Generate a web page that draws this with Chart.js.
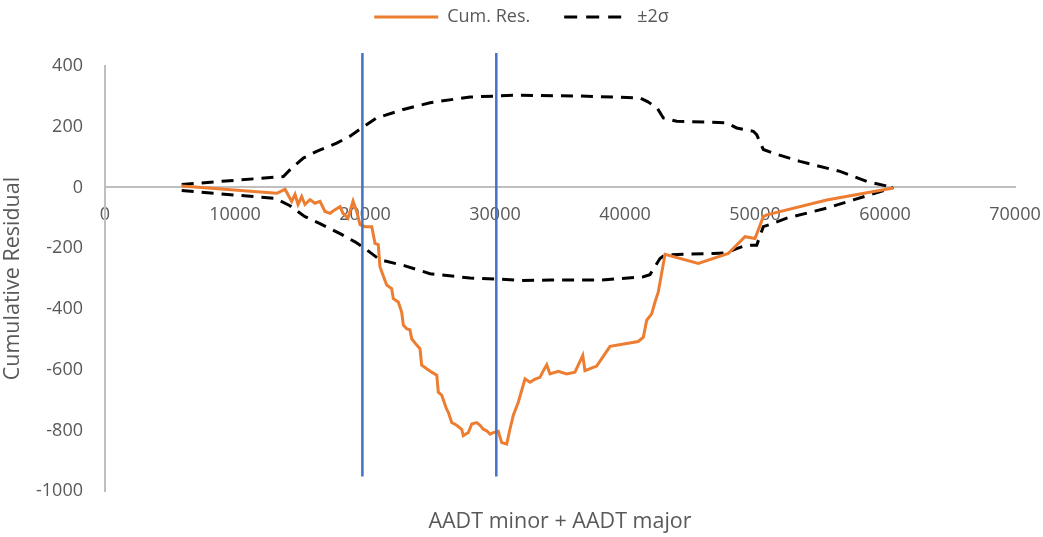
<!DOCTYPE html>
<html>
<head>
<meta charset="utf-8">
<script src="https://cdn.jsdelivr.net/npm/chart.js@4.4.1/dist/chart.umd.min.js"></script>
<style>
  html, body { margin: 0; padding: 0; background: #fff; }
</style>
</head>
<body>
<canvas id="grafico" width="1043" height="537"></canvas>
<script>
// Cumulative residual (orange)
const cumX = [5900, 13210, 13850, 14360, 14620, 14850, 15130, 15380, 15770, 16150, 16540, 16920, 17310, 17690, 18080, 18310, 18690, 19080, 19360, 19620, 20000, 20520, 20770, 21020, 21150, 21380, 21670, 22050, 22180, 22560, 22820, 22950, 23210, 23460, 23590, 23980, 24230, 24360, 24750, 25130, 25520, 25640, 25900, 26280, 26410, 26670, 27050, 27440, 27560, 27950, 28210, 28590, 28850, 29100, 29360, 29620, 29870, 30250, 30520, 30900, 31150, 31410, 31790, 32310, 32690, 33080, 33460, 33720, 33980, 34230, 34870, 35520, 36150, 36750, 36920, 37820, 38850, 41020, 41410, 41670, 42050, 42310, 42560, 43080, 45640, 47950, 48460, 49230, 50000, 50640, 50900, 55520, 60640];
const cumY = [5, -19, -6, -46, -23, -56, -30, -56, -40, -52, -46, -79, -85, -73, -63, -85, -101, -45, -79, -122, -129, -129, -184, -188, -261, -288, -321, -333, -366, -377, -410, -453, -465, -469, -498, -519, -531, -585, -597, -608, -618, -674, -684, -730, -740, -774, -783, -796, -817, -807, -779, -774, -783, -796, -801, -812, -807, -803, -840, -845, -796, -750, -707, -630, -641, -631, -625, -603, -584, -614, -605, -614, -608, -553, -603, -588, -523, -507, -493, -437, -416, -377, -344, -220, -250, -217, -195, -162, -168, -96, -90, -41, -2];

// +2 sigma envelope
const supX = [5900, 13720, 14360, 15260, 16280, 17820, 18850, 19740, 20900, 22950, 25000, 25770, 28080, 30130, 31380, 36540, 39080, 41150, 41770, 42500, 42950, 43980, 47820, 48590, 49870, 50130, 50640, 51410, 53460, 56540, 58590, 60640];
const supY = [10, 36, 64, 97, 119, 146, 169, 196, 229, 257, 279, 284, 298, 301, 304, 301, 298, 295, 282, 260, 229, 218, 213, 196, 185, 174, 125, 113, 86, 53, 20, 0];

// -2 sigma envelope
const infX = [5900, 13080, 14230, 15380, 16540, 18080, 19230, 20000, 21150, 23080, 25000, 28080, 30380, 31920, 34230, 38080, 41410, 41920, 42690, 43080, 46790, 47820, 48590, 49360, 50130, 50640, 51410, 52440, 55520, 57560, 60640];
const infY = [-10, -36, -60, -96, -119, -152, -179, -201, -238, -258, -284, -298, -302, -306, -305, -305, -294, -287, -234, -222, -217, -215, -201, -190, -190, -129, -118, -101, -68, -41, 0];

// vertical markers
const marcaX = [19800, 30100];
const marcaY = [443, -952];

const xTicks = [0, 10000, 20000, 30000, 40000, 50000, 60000, 70000];
const yTicks = [-1000, -800, -600, -400, -200, 0, 200, 400];

function pares(xs, ys) {
    return xs.map((x, i) => ({ x: x, y: ys[i] }));
}

const cinza = '#595959';
const fonte = "'Open Sans', sans-serif";

const datasets = [
    {
        label: 'Cum. Res.',
        data: pares(cumX, cumY),
        borderColor: '#ED7D31',
        backgroundColor: '#ED7D31',
        borderWidth: 3,
        order: 1
    },
    {
        label: '±2σ',
        data: pares(supX, supY),
        borderColor: '#000000',
        backgroundColor: '#000000',
        borderWidth: 3,
        borderDash: [12, 8],
        order: 2
    },
    {
        label: 'inf',
        data: pares(infX, infY),
        borderColor: '#000000',
        borderWidth: 3,
        borderDash: [12, 8],
        order: 2
    }
];

marcaX.forEach((mx, i) => {
    datasets.push({
        label: 'marca' + i,
        data: pares([mx, mx], marcaY),
        borderColor: '#4472C4',
        borderWidth: 2.5,
        clip: false,
        order: 0
    });
});

// extra room between the legend and the plot
const espacoLegenda = {
    id: 'espacoLegenda',
    beforeInit(chart) {
        const fitOriginal = chart.legend.fit;
        chart.legend.fit = function () {
            fitOriginal.call(this);
            this.height += 30;
        };
    }
};

// legend keeps the dataset line style (dash)
function itensLegenda(chart) {
    const itens = Chart.defaults.plugins.legend.labels.generateLabels(chart);
    itens.forEach(it => {
        const ds = chart.data.datasets[it.datasetIndex];
        it.strokeStyle = ds.borderColor;
        it.lineWidth = 3;
        it.lineDash = ds.borderDash ? [13, 9] : [];
    });
    return itens;
}

new Chart(document.getElementById('grafico'), {
    type: 'scatter',
    data: { datasets: datasets },
    plugins: [espacoLegenda],
    options: {
        responsive: false,
        animation: false,
        showLine: true,
        elements: { point: { radius: 0, hoverRadius: 0 }, line: { tension: 0 } },
        layout: { padding: { top: -26, right: 0, left: 0, bottom: 0 } },
        plugins: {
            legend: {
                position: 'top',
                labels: {
                    color: cinza,
                    font: { family: fonte, size: 18 },
                    usePointStyle: true,
                    pointStyle: 'line',
                    pointStyleWidth: 64,
                    padding: 34,
                    generateLabels: itensLegenda,
                    filter: item => item.datasetIndex < 2
                }
            },
            title: {
                display: true,
                position: 'bottom',
                fullSize: false,
                text: 'AADT minor + AADT major',
                color: cinza,
                font: { family: fonte, size: 21.5, weight: 'normal' },
                padding: { top: 18, bottom: 2 }
            },
            tooltip: { enabled: false }
        },
        scales: {
            x: {
                type: 'linear',
                position: { y: 0 },
                min: 0,
                max: 70000,
                afterBuildTicks: axis => { axis.ticks = xTicks.map(v => ({ value: v })); },
                afterFit: axis => { axis.paddingRight = 28; axis.paddingLeft = 0; },
                ticks: {
                    color: cinza,
                    font: { family: fonte, size: 18 },
                    padding: 9,
                    maxRotation: 0,
                    callback: v => String(v)
                },
                grid: { display: false },
                border: { display: true, color: '#BFBFBF', width: 2 }
            },
            y: {
                type: 'linear',
                position: 'left',
                min: -1000,
                max: 400,
                afterBuildTicks: axis => { axis.ticks = yTicks.map(v => ({ value: v })); },
                afterFit: axis => { axis.width = 105; },
                ticks: {
                    color: cinza,
                    font: { family: fonte, size: 18 },
                    padding: 14,
                    callback: v => String(v)
                },
                title: {
                    display: true,
                    text: 'Cumulative Residual',
                    color: cinza,
                    font: { family: fonte, size: 21.5 },
                    padding: 0
                },
                grid: { display: false },
                border: { display: true, color: '#BFBFBF', width: 2 }
            }
        }
    }
});
</script>
</body>
</html>
